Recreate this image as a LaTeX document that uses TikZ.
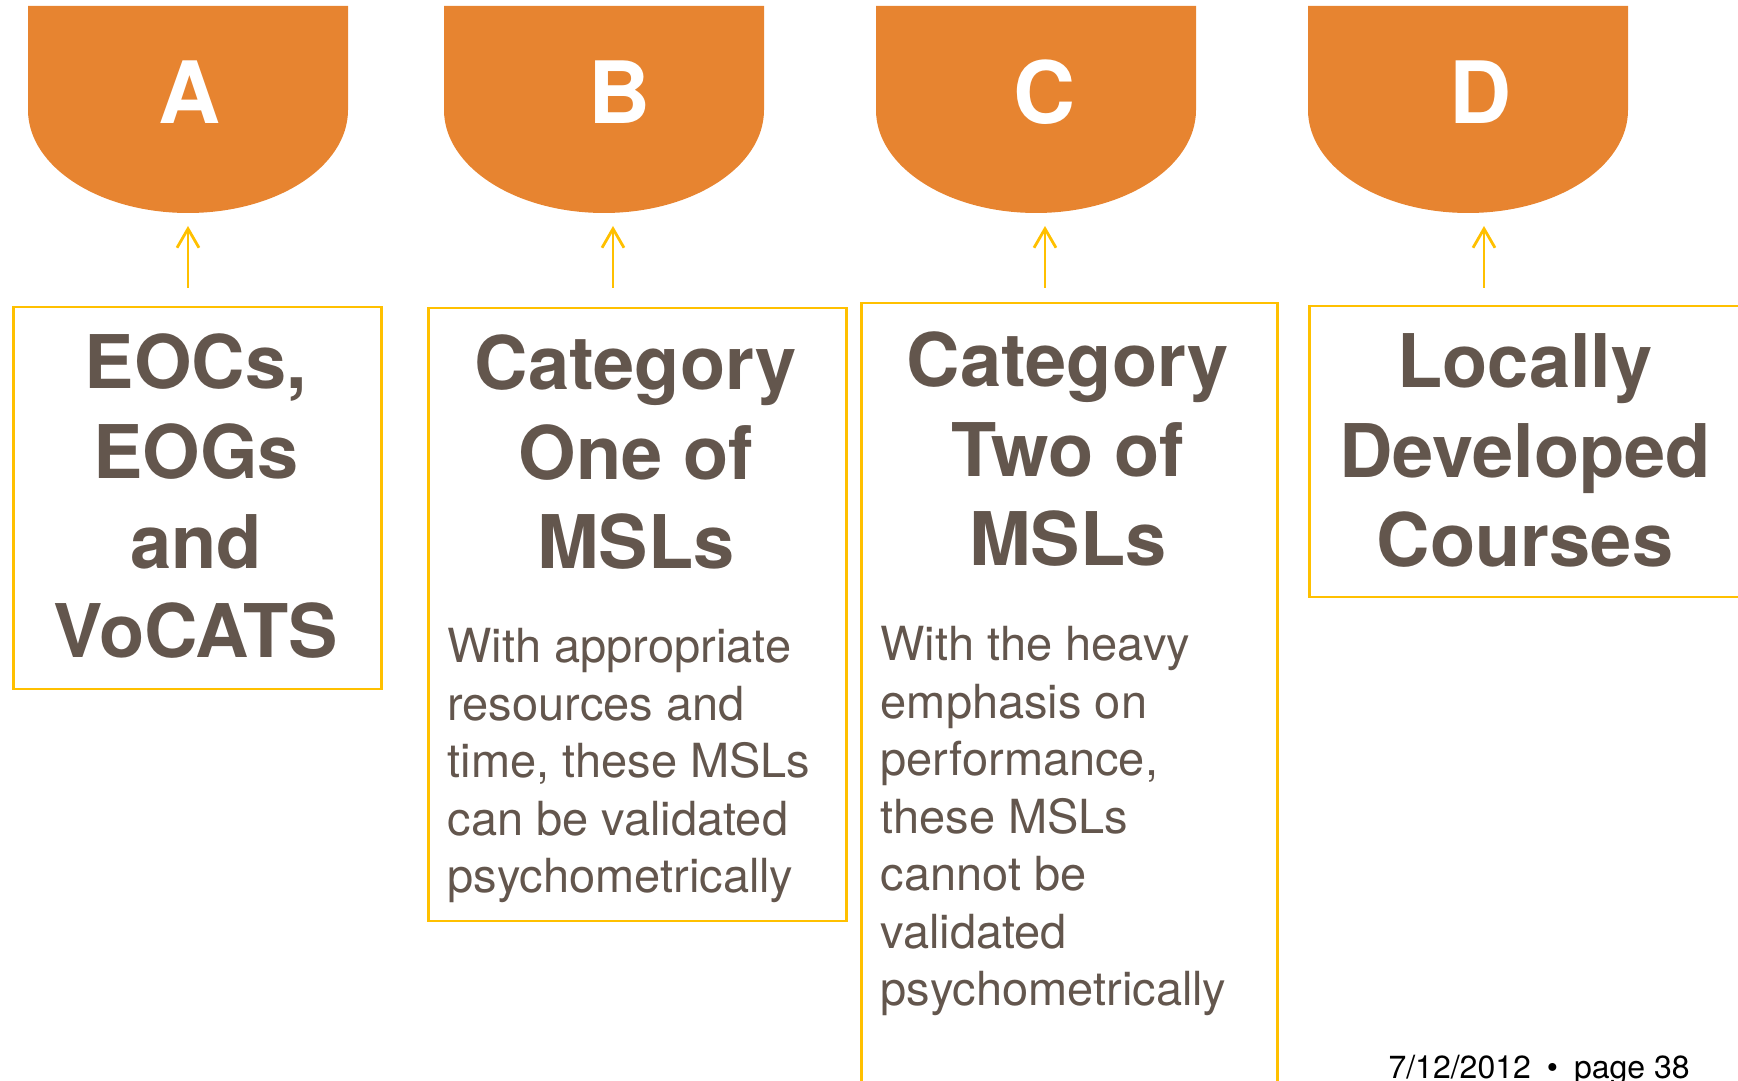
\documentclass[tikz,border=0pt]{standalone}
\usepackage{fontspec}
\setmainfont{TeX Gyre Heros}
\usetikzlibrary{arrows.meta, positioning}

\definecolor{capcol}{RGB}{231,132,48}
\definecolor{edgecol}{RGB}{255,192,0}
\definecolor{inkcol}{RGB}{99,86,77}

\tikzset{
  capshape/.style={fill=capcol},
  caplabel/.style={anchor=base, text=white, font=\fontsize{86}{86}\selectfont\bfseries},
  panel/.style={draw=edgecol, line width=2.5pt, anchor=north west, inner sep=0pt},
  heading/.style={anchor=base, align=center, text=inkcol, font=\fontsize{74}{89.7}\selectfont\bfseries},
  blurb/.style={anchor=base west, align=left, text=inkcol, font=\fontsize{47}{57.5}\selectfont},
  up/.style={draw=edgecol, line width=2.8pt, -{Straight Barb[length=19pt,width=22pt]}}
}

\begin{document}
\begin{tikzpicture}[x=1pt, y=1pt]
    \useasboundingbox (0,0) rectangle (1738,1081);

    % orange caps
    \fill[capshape] (28,1075) -- (348,1075) -- (348,971) arc[start angle=0, end angle=-180, x radius=160, y radius=103] -- cycle;
    \fill[capshape] (444,1075) -- (764,1075) -- (764,971) arc[start angle=0, end angle=-180, x radius=160, y radius=103] -- cycle;
    \fill[capshape] (876,1075) -- (1196,1075) -- (1196,971) arc[start angle=0, end angle=-180, x radius=160, y radius=103] -- cycle;
    \fill[capshape] (1308,1075) -- (1628,1075) -- (1628,971) arc[start angle=0, end angle=-180, x radius=160, y radius=103] -- cycle;

    \node[caplabel] (lA) at (190,957) {A};
    \node[caplabel] (lB) at (620,957) {B};
    \node[caplabel] (lC) at (1045,957) {C};
    \node[caplabel] (lD) at (1481,957) {D};

    % boxes
    \node[panel, minimum width=368pt, minimum height=382pt] (boxA) at (12,775) {};
    \node[panel, minimum width=418pt, minimum height=613pt] (boxB) at (427,774) {};
    \node[panel, minimum width=416pt, minimum height=800pt] (boxC) at (860,779) {};
    \node[panel, minimum width=433pt, minimum height=291pt] (boxD) at (1308,776) {};

    % base = last line
    \node[heading] (tA) at (196,423) {EOCs,\\EOGs\\and\\VoCATS};
    \node[heading] (tB) at (636,512) {Category\\One of\\MSLs};
    \node[heading] (tC) at (1068,515) {Category\\Two of\\MSLs};
    \node[heading] (tD) at (1525,514) {Locally\\Developed\\Courses};

    \node[blurb] (bB) at (444,188) {With appropriate\\resources and\\time, these MSLs\\can be validated\\psychometrically};
    \node[blurb] (bC) at (877,75) {With the heavy\\emphasis on\\performance,\\these MSLs\\cannot be\\validated\\psychometrically};

    % arrows up to the caps
    \coordinate (fA) at (188,793);  \coordinate (hA) at (188,855);
    \coordinate (fB) at (613,793);  \coordinate (hB) at (613,855);
    \coordinate (fC) at (1045,793); \coordinate (hC) at (1045,855);
    \coordinate (fD) at (1484,793); \coordinate (hD) at (1484,855);
    \draw[up] (fA) -- (hA);
    \draw[up] (fB) -- (hB);
    \draw[up] (fC) -- (hC);
    \draw[up] (fD) -- (hD);

    \node[anchor=base west, font=\fontsize{32}{32}\selectfont] (stamp) at (1385,2) {7/12/2012\enspace•\enspace page 38};
\end{tikzpicture}
\end{document}
